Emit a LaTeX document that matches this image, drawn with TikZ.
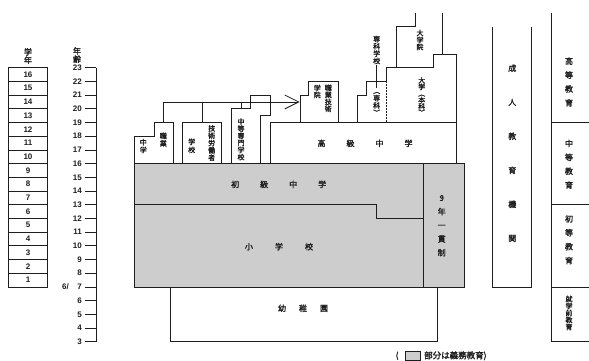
\documentclass[tikz,border=0pt]{standalone}
\usepackage{fontspec}
\usetikzlibrary{arrows.meta}
\newfontfamily\cjk[FakeBold=2]{Noto Sans CJK JP}
\newfontfamily\numf{Liberation Sans}
\definecolor{greyfill}{RGB}{205,205,205}
\definecolor{ink}{RGB}{30,30,30}
\begin{document}
\begin{tikzpicture}[x=1pt,y=-1pt,
  declare function={ay(\a)=67.7+(23-\a)*13.7;},
  ln/.style={draw=ink, line width=0.8pt},
  lbl/.style={inner sep=0, align=center, text=ink, font=\cjk\fontsize{7}{#1}\selectfont},
  lbl/.default=7,
  big/.style={inner sep=0, align=center, text=ink, font=\cjk\fontsize{8}{#1}\selectfont},
  big/.default=9,
  num/.style={inner sep=0, text=ink, font=\numf\bfseries\fontsize{8}{9}\selectfont}]
\useasboundingbox (0,0) rectangle (589,361);

% ---- grade column
\node[big=8.3] (hgr) at (28,56) {学\\年};
\draw[ln] (8.3,{ay(23)}) rectangle (47.7,{ay(7)});
\foreach \g in {8,...,22} \draw[ln] (8.3,{ay(\g)}) -- (47.7,{ay(\g)});
\foreach \g in {1,...,16} \node[num] (gr\g) at (28,{ay(\g+6.5)}) {\g};

% ---- age scale
\node[big=8.3] (hage) at (77,55) {年\\齢};
\draw[ln] (96,{ay(23)}) -- (96,{ay(3)});
\foreach \a in {3,...,23} {
  \draw[ln] (85,{ay(\a)}) -- (96,{ay(\a)});
  \node[num,anchor=east] (age\a) at (82,{ay(\a)}) {\a};
}
\node[num,anchor=east] (age6s) at (69,{ay(7)}) {6/};

% ---- compulsory (grey) part
\fill[greyfill] (134.3,{ay(16)}) rectangle (464.3,{ay(7)});
\draw[ln] (134.3,{ay(16)}) rectangle (464.3,{ay(7)});
\draw[ln] (423,{ay(16)}) -- (423,{ay(7)});
\draw[ln] (134.3,{ay(13)}) -- (376.7,{ay(13)}) -- (376.7,{ay(12)}) -- (423,{ay(12)});

% ---- kindergarten
\draw[ln] (170.7,{ay(7)}) rectangle (437.3,{ay(3)});

% ---- upper secondary
\draw[ln] (270,{ay(16)}) |- (456.7,{ay(19)});
\draw[ln] (456.7,{ay(24)}) -- (456.7,{ay(16)});

% ---- vocational boxes
\draw[ln] (134.3,{ay(16)}) |- (154,{ay(18)}) |- (173.3,{ay(19)}) -- (173.3,{ay(16)});
\draw[ln] (182.7,{ay(16)}) |- (221.7,{ay(19)}) -- (221.7,{ay(16)});
\draw[ln] (231.7,{ay(16)}) |- (250.7,{ay(20)}) |- (270,{ay(21)}) -- (270,115.6) -- (260,115.6) -- (260,{ay(16)});

% ---- arrow to vocational college
\coordinate (arrS) at (163.3,{ay(20.5)});
\coordinate (arrE) at (299.6,{ay(20.5)});
\draw[ln,-{Straight Barb[length=14pt,width=14pt,line width=0.8pt]}] (arrS) -- (arrE);
\draw[ln] (arrS) -- (163.3,{ay(19)});
\draw[ln] (202.3,{ay(20.5)}) -- (202.3,{ay(19)});
\draw[ln] (241,{ay(20.5)}) -- (241,{ay(20)});

% ---- vocational college
\draw[ln] (300,{ay(19)}) |- (308.3,{ay(21)}) |- (338.3,{ay(22)}) -- (338.3,{ay(19)});

% ---- junior college / university
\draw[ln] (357.3,{ay(19)}) |- (366.7,{ay(21)}) |- (386.7,{ay(22)});
\draw[ln,dashed,dash pattern=on 1.5pt off 1.5pt] (386.7,{ay(22)}) -- (386.7,{ay(19)});
\draw[ln] (386.7,{ay(22)}) |- (433.3,{ay(23)}) |- (456.7,{ay(24)});
\draw[ln] (396,{ay(23)}) |- (415,{ay(26)}) -- (415,{ay(27)});
\draw[ln] (442.3,{ay(24)}) -- (442.3,{ay(27)});
\draw[ln] (376.7,65.5) -- (376.7,88.3);

% ---- adult education
\draw[ln] (492.7,{ay(26)}) |- (531.7,{ay(7)}) -- (531.7,{ay(26)});

% ---- stage column
\draw[ln] (551,{ay(27)}) -- (551,{ay(3)}) -- (590,{ay(3)});
\foreach \a in {19,13,7} \draw[ln] (551,{ay(\a)}) -- (590,{ay(\a)});

% ---- labels
\node[lbl=7.7] (t1) at (143.3,146.1) {中\\学};
\node[lbl=7.5] (t2) at (163.3,139.7) {職\\業};
\node[lbl=8] (t3) at (191.7,145.8) {学\\校};
\node[lbl=7.3] (t4) at (211.7,143) {技\\術\\労\\働\\者};
\node[lbl=7.1] (t5) at (241,139.3) {中\\等\\専\\門\\学\\校};
\node[lbl=7] (t6) at (317.3,91.5) {学\\院};
\node[lbl=7] (t7) at (328.3,98.3) {職\\業\\技\\術};
\node[lbl=7.3] (t8) at (376.7,50) {専\\科\\学\\校};
\node[lbl=6.3] (t9) at (376.7,103.8) {︵\\専\\科\\︶};
\node[lbl=6.5] (t10) at (421.7,96.3) {大\\学\\︵\\本\\科\\︶};
\node[lbl=7] (t11) at (420,40) {大\\学\\院};
\node[big] (t12) at (365,143.3) {高\hspace{21pt}級\hspace{21pt}中\hspace{21pt}学};
\node[big] (t13) at (278.7,184.3) {初\hspace{21pt}級\hspace{21pt}中\hspace{21pt}学};
\node[big] (t14) at (279,246.7) {小\hspace{22pt}学\hspace{22pt}校};
\node[big] (t15) at (303,308.3) {幼\hspace{13pt}稚\hspace{13pt}園};
\node[big=13.7] (t16) at (441.7,225.7) {9\\年\\一\\貫\\制};
\node[big=34] (t17) at (512.3,153.3) {成\\人\\教\\育\\機\\関};
\node[big=13.9] (t18) at (569,82) {高\\等\\教\\育};
\node[big=13.9] (t19) at (569,164.3) {中\\等\\教\\育};
\node[big=13.9] (t20) at (569,239.7) {初\\等\\教\\育};
\node[lbl=7] (t21) at (569,313) {就\\学\\前\\教\\育};

% ---- legend
\node[big] (lg1) at (397,355.8) {(};
\draw[ln,fill=greyfill] (405,351.7) rectangle (420,360);
\node[big,anchor=west,font=\cjk\fontsize{8.5}{9}\selectfont] (lg2) at (424,355.8) {部分は義務教育)};
\end{tikzpicture}
\end{document}
